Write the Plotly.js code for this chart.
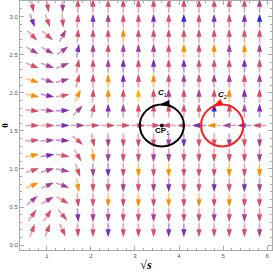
<!DOCTYPE html>
<html><head><meta charset="utf-8">
<script src="https://cdn.plot.ly/plotly-3.0.1.min.js"></script>
<style>body{margin:0;background:#fff}</style></head>
<body><div id="c" style="width:273px;height:273px"></div>
<script>
// grid of sample points
const sCols = [0.672,1.016,1.359,1.703,2.047,2.391,2.734,3.078,3.422,3.766,4.109,4.453,4.797,5.141,5.484,5.828];
const thetaRows = [3.142,2.945,2.749,2.553,2.356,2.160,1.963,1.767,1.571,1.374,1.178,0.982,0.785,0.589,0.393,0.196];
// arrow directions (degrees, ccw from +sqrt(s)), one row per theta value (top to bottom)
const dirRows = [
 [-80,-80,-90,90,90,90,90,90,90,90,90,90,90,90,90,90],
 [-70,-70,-85,85,90,90,90,90,90,90,90,90,90,90,90,90],
 [-45,-40,60,85,90,90,90,90,90,90,90,90,90,90,90,90],
 [-30,-30,35,80,90,90,90,90,90,90,90,90,90,90,90,90],
 [-22,-20,22,80,90,90,90,90,90,90,90,90,90,90,90,90],
 [-18,-18,15,75,88,90,90,90,90,90,90,90,90,90,90,90],
 [-12,-12,10,65,85,90,90,90,90,90,90,90,90,90,90,90],
 [-5,-6,3,45,75,90,90,90,90,90,90,90,90,90,90,90],
 [0,0,0,0,0,0,0,0,0,180,180,180,180,180,180,180],
 [3,3,-3,-40,-78,-90,-90,-90,-90,-90,-90,-90,-90,-90,-90,-90],
 [12,10,-10,-60,-82,-90,-90,-90,-90,-90,-90,-90,-90,-90,-90,-90],
 [18,15,-12,-70,-88,-90,-90,-90,-90,-90,-90,-90,-90,-90,-90,-90],
 [25,25,-20,-80,-90,-90,-90,-90,-90,-90,-90,-90,-90,-90,-90,-90],
 [40,30,-30,-85,-90,-90,-90,-90,-90,-90,-90,-90,-90,-90,-90,-90],
 [55,55,-50,-85,-90,-90,-90,-90,-90,-90,-90,-90,-90,-90,-90,-90],
 [70,70,-65,-88,-90,-90,-90,-90,-90,-90,-90,-90,-90,-90,-90,-90]
];
// colour class of each arrow (R red, M magenta, P violet, O orange, Y yellow, B blue)
const colorRows = [
 "RRMRRRRRRRRRRRRM",
 "PRRRPMRRPRBRPRPB",
 "RRMRRRORRRRRRRRR",
 "MMMPMRMMMROROMOM",
 "RMMRRMPRPRPRRRPR",
 "OMMRROPRORMRMMRM",
 "OPRORORYRMRMROPR",
 "RMPMRPMRRRRRBRMP",
 "RRPMRRRRRRRPOMPR",
 "RMPRRMRRRMPRRMRM",
 "OPRROMRRMMRRRRRM",
 "RMMRMPRORORRRORO",
 "OMMORRMRMPRRPRPM",
 "MMRRRORORORORORR",
 "RRRPMMRRMRRRMRMR",
 "RRRRRPRRRPPRRRRM"
];
const palette = {R:"#dc4c66",M:"#a8409a",P:"#7a2cc0",O:"#ff8c00",Y:"#ffb400",B:"#2a2ad2"};

// contours and critical point
const cp1 = {s:3.61, th:1.571};
const c1 = {s:3.61, th:1.571, rs:0.50, rth:0.275, color:"#000", head:97};
const c2 = {s:4.98, th:1.571, rs:0.48, rth:0.275, color:"#ff1a1a", head:117};

const xr=[0.39,6.11], yr=[-0.063,3.204];
const W=273,H=273,M={l:20,r:1,t:1,b:23};
const kx=(xr[1]-xr[0])/(W-M.l-M.r), ky=(yr[1]-yr[0])/(H-M.t-M.b);
const L=14;

const traces=[];
Object.keys(palette).forEach(code=>{
  const lx=[],ly=[],hx=[],hy=[],ang=[];
  thetaRows.forEach((th,j)=>{
    sCols.forEach((s,i)=>{
      if(colorRows[j][i]!==code) return;
      const a=dirRows[j][i]*Math.PI/180;
      const ux=Math.cos(a)*L/2*kx, uy=Math.sin(a)*L/2*ky;
      lx.push(s-ux,s+ux*0.6,null); ly.push(th-uy,th+uy*0.6,null);
      hx.push(s+ux); hy.push(th+uy); ang.push(90-dirRows[j][i]);
    });
  });
  traces.push({x:lx,y:ly,mode:"lines",line:{color:palette[code],width:1.6},opacity:0.5,hoverinfo:"skip",showlegend:false});
  traces.push({x:hx,y:hy,mode:"markers",marker:{symbol:"arrow",size:8.5,angle:ang,color:palette[code],line:{width:0}},hoverinfo:"skip",showlegend:false});
});

// circle heads
[c1,c2].forEach(c=>{
  const p=c.head*Math.PI/180;
  traces.push({x:[c.s+c.rs*Math.cos(p)],y:[c.th+c.rth*Math.sin(p)],mode:"markers",
    marker:{symbol:"arrow",size:11,angle:[90-(c.head+90)],color:c.color,line:{width:0}},showlegend:false,hoverinfo:"skip"});
});
traces.push({x:[cp1.s],y:[cp1.th],mode:"markers",marker:{size:4,color:"#000"},showlegend:false,hoverinfo:"skip"});

const shapes=[c1,c2].map(c=>({type:"circle",xref:"x",yref:"y",x0:c.s-c.rs,x1:c.s+c.rs,y0:c.th-c.rth,y1:c.th+c.rth,line:{color:c.color,width:2}}));

const lbl={size:8,color:"#000",family:"Liberation Sans, Arial"};
const annotations=[
 {x:3.635,y:2.0,text:"<b><i>C</i></b><sub>1</sub>",showarrow:false,font:lbl},
 {x:4.975,y:1.975,text:"<b><i>C</i></b><sub>2</sub>",showarrow:false,font:lbl},
 {x:3.61,y:1.50,text:"<b>CP</b><sub>1</sub>",showarrow:false,font:lbl}
];

const axCommon={showgrid:false,zeroline:false,showline:true,linecolor:"#aaa",linewidth:1,mirror:"ticks",
  ticks:"inside",ticklen:4,tickcolor:"#aaa",tickfont:{size:6,color:"#555",family:"Liberation Sans, Arial"}};
const layout={
  width:W,height:H,margin:M,paper_bgcolor:"#fff",plot_bgcolor:"#fff",
  xaxis:Object.assign({},axCommon,{range:xr,tickvals:[1,2,3,4,5,6],ticktext:["1","2","3","4","5","6"],
    minor:{dtick:0.2,tick0:0,ticklen:2,ticks:"inside",tickcolor:"#aaa"},
    title:{text:"<b>√<i>s</i></b>",font:{size:12,color:"#000",family:"Liberation Serif, serif"},standoff:2}}),
  yaxis:Object.assign({},axCommon,{range:yr,tickvals:[0,0.5,1,1.5,2,2.5,3],ticktext:["0.0","0.5","1.0","1.5","2.0","2.5","3.0"],
    minor:{dtick:0.1,tick0:0,ticklen:2,ticks:"inside",tickcolor:"#aaa"},
    title:{text:"<b>θ</b>",font:{size:9,color:"#000",family:"Liberation Serif, serif"},standoff:3}}),
  shapes:shapes,annotations:annotations
};
Plotly.newPlot("c",traces,layout,{staticPlot:true});
</script></body></html>
